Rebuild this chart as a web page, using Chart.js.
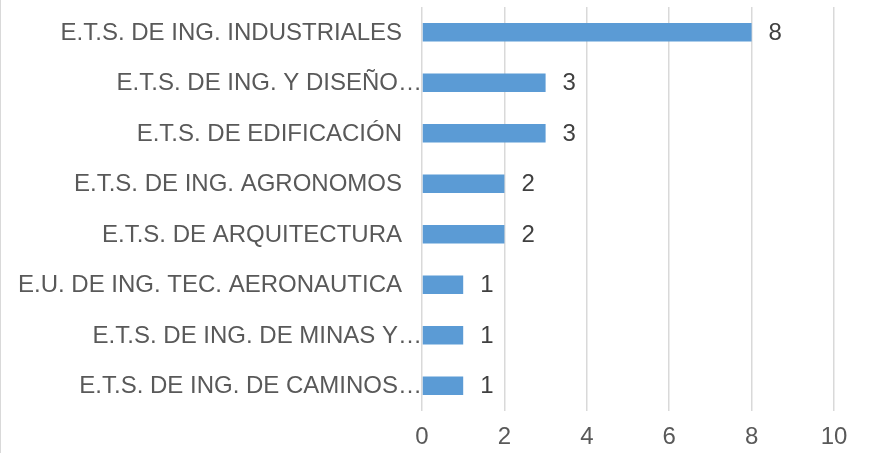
<!DOCTYPE html>
<html lang="es">
  <head>
    <meta charset="UTF-8" />
    <title>Escuelas</title>
    <script src="https://cdn.jsdelivr.net/npm/chart.js@4.4.0/dist/chart.umd.min.js"></script>
    <style>
      html, body {
        margin: 0;
        padding: 0;
        background: #ffffff;
      }

      .chart-container {
        width: 870px;
        height: 453px;
        position: relative;
      }
    </style>
  </head>

  <body>
    <div class="chart-container">
      <canvas id="chart"></canvas>
    </div>

    <script>
      // categorías tal y como aparecen (recortadas) en el gráfico
      const escuelas = [
        "E.T.S. DE ING. INDUSTRIALES",
        "E.T.S. DE ING. Y DISEÑO…",
        "E.T.S. DE EDIFICACIÓN",
        "E.T.S. DE ING. AGRONOMOS",
        "E.T.S. DE ARQUITECTURA",
        "E.U. DE ING. TEC. AERONAUTICA",
        "E.T.S. DE ING. DE MINAS Y…",
        "E.T.S. DE ING. DE CAMINOS…",
      ];
      const valores = [8, 3, 3, 2, 2, 1, 1, 1];
      const ejeMin = 0;
      const ejeMax = 10;
      const ejePaso = 2;

      const fuente = "'Liberation Sans', Arial, sans-serif";
      const textColor = "#595959";
      const gridColor = "#d9d9d9";

      // nombres de las escuelas, valores al final de cada barra y borde izquierdo
      const etiquetas = {
        id: "etiquetas",
        afterDatasetsDraw(chart) {
          const ctx = chart.ctx;
          const meta = chart.getDatasetMeta(0);
          const yScale = chart.scales.y;
          const left = chart.chartArea.left;
          ctx.save();
          ctx.font = "24px " + fuente;
          ctx.textBaseline = "middle";

          // los nombres recortados (con "…") llegan hasta el eje, como en Excel
          ctx.fillStyle = textColor;
          ctx.textAlign = "right";
          escuelas.forEach((nombre, i) => {
            const y = yScale.getPixelForTick(i) + 1;
            const x = nombre.endsWith("…") ? left : left - 20;
            ctx.fillText(nombre, x, y);
          });

          ctx.fillStyle = "#404040";
          ctx.textAlign = "left";
          meta.data.forEach((bar, i) => {
            ctx.fillText(String(valores[i]), bar.x + 17, bar.y + 1);
          });

          ctx.strokeStyle = gridColor;
          ctx.lineWidth = 1;
          ctx.beginPath();
          ctx.moveTo(0.5, 0);
          ctx.lineTo(0.5, chart.height);
          ctx.stroke();
          ctx.restore();
        },
      };

      const ctx = document.getElementById("chart").getContext("2d");
      const myChart = new Chart(ctx, {
        type: "bar",
        data: {
          labels: escuelas,
          datasets: [
            {
              data: valores,
              backgroundColor: "#5b9bd5",
              borderWidth: 0,
              categoryPercentage: 1,
              barPercentage: 0.37,
            },
          ],
        },
        options: {
          indexAxis: "y",
          responsive: true,
          maintainAspectRatio: false,
          animation: false,
          layout: {
            padding: { top: 7, right: 36, bottom: 0, left: 0 },
          },
          plugins: {
            legend: { display: false },
            tooltip: { enabled: false },
          },
          scales: {
            x: {
              min: ejeMin,
              max: ejeMax,
              ticks: {
                stepSize: ejePaso,
                color: textColor,
                padding: 12,
                font: { family: fuente, size: 24 },
              },
              grid: {
                color: gridColor,
                lineWidth: 1.5,
                drawTicks: false,
              },
              border: { display: false },
              afterFit(scale) {
                scale.height = 42;
                scale.paddingLeft = 0;
                scale.paddingRight = 0;
              },
            },
            y: {
              ticks: { display: false },
              grid: { display: false, drawTicks: false },
              border: { display: false },
              afterFit(scale) {
                scale.width = 422;
                scale.paddingTop = 0;
                scale.paddingBottom = 0;
              },
            },
          },
        },
        plugins: [etiquetas],
      });
    </script>
  </body>
</html>
